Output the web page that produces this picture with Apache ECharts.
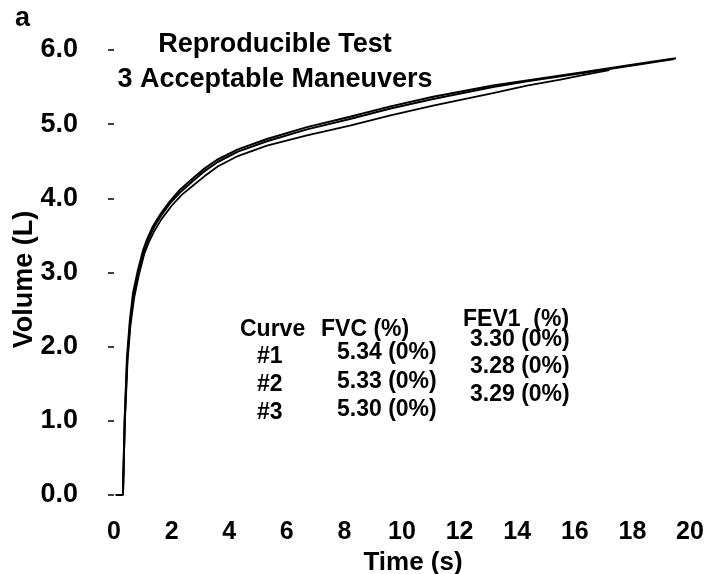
<!DOCTYPE html>
<html>
<head>
<meta charset="utf-8">
<script src="https://cdn.jsdelivr.net/npm/echarts@6/dist/echarts.min.js"></script>
<style>
  html, body { margin: 0; padding: 0; background: #fff; }
  #chart { width: 709px; height: 574px; }
</style>
</head>
<body>
<div id="chart"></div>
<script>
// volume-time curves
const time1 = [0.05, 0.31, 0.37, 0.45, 0.55, 0.66, 0.83, 1.01, 1.15, 1.35, 1.6, 1.94, 2.3, 2.74, 3.1, 3.58, 4.3, 5.31, 6.7, 8.19, 9.6, 11.08, 13.16, 14.34, 16.28, 18.16, 19.51];
const vol1  = [0, 0, 1.0, 1.85, 2.35, 2.72, 3.03, 3.30, 3.45, 3.62, 3.78, 3.96, 4.12, 4.27, 4.39, 4.52, 4.66, 4.80, 4.96, 5.10, 5.24, 5.37, 5.52, 5.59, 5.70, 5.81, 5.89];
const time2 = [0.31, 0.37, 0.46, 0.56, 0.68, 0.85, 1.03, 1.17, 1.37, 1.62, 1.96, 2.32, 2.76, 3.12, 3.60, 4.3, 5.31, 6.7, 8.19, 9.6, 11.08, 13.16, 14.34, 16.28, 18.16, 19.45];
const vol2  = [0, 1.0, 1.83, 2.32, 2.70, 3.01, 3.28, 3.43, 3.60, 3.76, 3.94, 4.09, 4.24, 4.36, 4.49, 4.63, 4.77, 4.93, 5.07, 5.21, 5.34, 5.50, 5.58, 5.69, 5.80, 5.88];
const time3 = [0.31, 0.38, 0.47, 0.57, 0.70, 0.87, 1.05, 1.20, 1.40, 1.65, 2.00, 2.36, 2.80, 3.15, 3.60, 4.3, 5.31, 6.7, 8.19, 9.6, 11.08, 13.16, 14.34, 15.5, 16.28, 17.2];
const vol3  = [0, 1.0, 1.80, 2.28, 2.66, 2.98, 3.25, 3.40, 3.56, 3.72, 3.90, 4.05, 4.19, 4.30, 4.43, 4.57, 4.71, 4.85, 4.98, 5.12, 5.25, 5.42, 5.52, 5.60, 5.66, 5.73];

// table in the middle of the plot
const curveLabels = ['#1', '#2', '#3'];
const fvcTexts = ['5.34 (0%)', '5.33 (0%)', '5.30 (0%)'];
const fev1Texts = ['3.30 (0%)', '3.28 (0%)', '3.29 (0%)'];

const xTicks = [0, 2, 4, 6, 8, 10, 12, 14, 16, 18, 20];
const yTicks = [0, 1, 2, 3, 4, 5, 6];

const FONT = '"Liberation Sans", Arial, sans-serif';

function pairs(t, v) {
  return t.map((x, i) => [x, v[i]]);
}

function txt(text, x, y, size, align) {
  return {
    type: 'text',
    x: x,
    y: y,
    style: {
      text: text,
      font: 'bold ' + size + 'px ' + FONT,
      fill: '#000',
      textAlign: align || 'left',
      textVerticalAlign: 'middle'
    }
  };
}

const chart = echarts.init(document.getElementById('chart'), null, { renderer: 'canvas' });

const graphics = [
  txt('a', 15, 19, 27),
  txt('Reproducible Test', 275, 45, 27, 'center'),
  txt('3 Acceptable Maneuvers', 275, 80, 27, 'center'),
  txt('Curve', 240, 330, 23),
  txt('FVC (%)', 321, 330, 23),
  txt('FEV1  (%)', 463, 320, 23)
];
const rowY = [357, 385, 413];
const fvcY = [353, 382, 410];
const fevY = [340, 367, 395];
curveLabels.forEach((c, i) => {
  graphics.push(txt(c, 257, rowY[i], 23));
  graphics.push(txt(fvcTexts[i], 337, fvcY[i], 23));
  graphics.push(txt(fev1Texts[i], 470, fevY[i], 23));
});

const lineStyle = { color: '#000', width: 2 };

const option = {
  backgroundColor: '#fff',
  animation: false,
  grid: { left: 114, right: 19, top: 50, bottom: 79, outerBoundsMode: 'none' },
  xAxis: {
    type: 'value',
    min: 0,
    max: 20,
    interval: 2,
    name: 'Time (s)',
    nameLocation: 'middle',
    nameGap: 47,
    nameTextStyle: { fontFamily: FONT, fontWeight: 'bold', fontSize: 26, color: '#000', padding: [0, 0, 0, 22] },
    axisLine: { show: false },
    axisTick: { show: false },
    splitLine: { show: false },
    axisLabel: {
      fontFamily: FONT, fontWeight: 'bold', fontSize: 25, color: '#000', margin: 25,
      formatter: v => xTicks.includes(v) ? String(v) : ''
    }
  },
  yAxis: {
    type: 'value',
    min: 0,
    max: 6,
    interval: 1,
    name: 'Volume (L)',
    nameLocation: 'middle',
    nameGap: 76,
    nameMoveOverlap: false,
    nameTextStyle: { fontFamily: FONT, fontWeight: 'bold', fontSize: 27, color: '#000', padding: [0, 14, 0, 0] },
    axisLine: { show: false },
    axisTick: { show: true, length: 6, lineStyle: { color: '#000', width: 1.5 } },
    splitLine: { show: false },
    axisLabel: {
      fontFamily: FONT, fontWeight: 'bold', fontSize: 27, color: '#000', margin: 36,
      formatter: v => yTicks.includes(v) ? v.toFixed(1) : ''
    }
  },
  graphic: graphics,
  series: [
    { type: 'line', data: pairs(time1, vol1), showSymbol: false, lineStyle: lineStyle },
    { type: 'line', data: pairs(time2, vol2), showSymbol: false, lineStyle: lineStyle },
    { type: 'line', data: pairs(time3, vol3), showSymbol: false, lineStyle: { color: '#000', width: 1.8 } }
  ]
};

chart.setOption(option);
</script>
</body>
</html>
